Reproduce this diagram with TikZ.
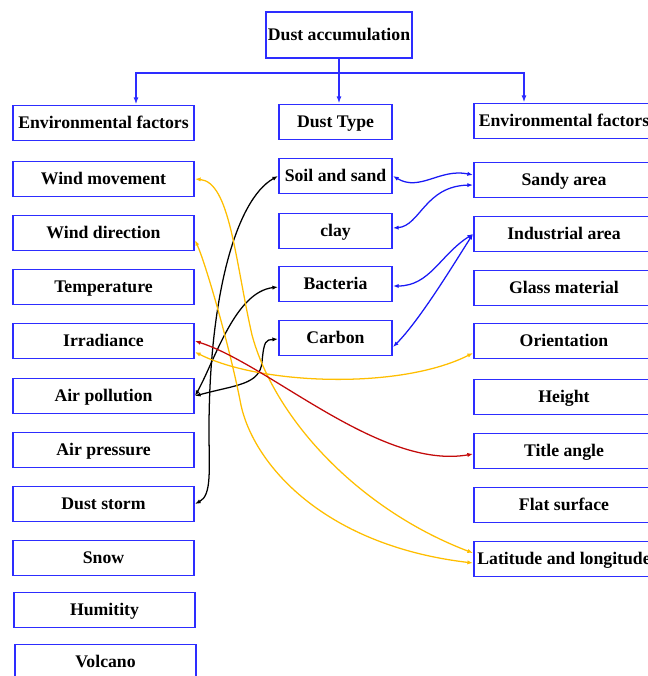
\documentclass[tikz,border=0pt]{standalone}
\usepackage{fontspec}
\setmainfont{Liberation Serif}
\usetikzlibrary{arrows.meta,calc}
\definecolor{boxblue}{RGB}{45,45,255}
\definecolor{linkblue}{RGB}{25,25,245}
\definecolor{linkyellow}{RGB}{255,190,0}
\definecolor{linkred}{RGB}{195,10,10}
\newcommand{\clrbox}{boxblue}
\newcommand{\clrlink}{linkblue}

\begin{document}
\begin{tikzpicture}[x=0.025cm, y=-0.025cm,
    box/.style={draw=\clrbox, line width=1.4pt, minimum height=0.875cm, inner sep=0pt,
        text height=1.95ex, text depth=0.25ex,
        font=\fontsize{12.6}{14}\selectfont\bfseries},
    leftbox/.style={box, minimum width=4.525cm},
    midbox/.style={box, minimum width=2.825cm},
    rightbox/.style={box, minimum width=4.5cm},
    tree/.style={draw=\clrbox, line width=1pt, -{Latex[length=5pt,width=3.5pt]}},
    link/.style={line width=0.9pt, {Latex[length=4pt,width=3pt]}-{Latex[length=4pt,width=3pt]}}]
    \useasboundingbox (0,0) rectangle (648,676);

    % top of the tree
    \node[box, minimum width=3.65cm, minimum height=1.15cm] (dustacc) at (339,35) {Dust accumulation};
    \node[leftbox] (envl) at (103.5,123) {Environmental factors};
    \node[midbox] (dtype) at (335.5,122) {Dust Type};
    \node[rightbox] (envr) at (564,121) {Environmental factors};

    % left column
    \node[leftbox] (wind) at (103.5,179) {Wind movement};
    \node[leftbox] (winddir) at (103.5,233) {Wind direction};
    \node[leftbox] (temp) at (103.5,287) {Temperature};
    \node[leftbox] (irrad) at (103.5,341) {Irradiance};
    \node[leftbox] (airpol) at (103.5,396) {Air pollution};
    \node[leftbox] (airpres) at (103.5,450) {Air pressure};
    \node[leftbox] (storm) at (103.5,504) {Dust storm};
    \node[leftbox] (snow) at (103.5,558) {Snow};
    \node[leftbox] (humid) at (104.5,610) {Humitity};
    \node[leftbox] (volcano) at (105.5,662) {Volcano};

    % middle column
    \node[midbox] (soil) at (335.5,176) {Soil and sand};
    \node[midbox] (clay) at (335.5,231) {clay};
    \node[midbox] (bact) at (335.5,284) {Bacteria};
    \node[midbox] (carbon) at (335.5,338) {Carbon};

    % right column
    \node[rightbox] (sandy) at (564,180) {Sandy area};
    \node[rightbox] (indus) at (564,234) {Industrial area};
    \node[rightbox] (glass) at (564,288) {Glass material};
    \node[rightbox] (orient) at (564,341) {Orientation};
    \node[rightbox] (height) at (564,397) {Height};
    \node[rightbox] (tilt) at (564,451) {Title angle};
    \node[rightbox] (flat) at (564,505) {Flat surface};
    \node[rightbox] (latlong) at (564,559) {Latitude and longitude};

    \draw[tree] (dustacc.south) -- (dustacc.south |- dtype.north);
    \draw[tree] ($(dustacc.south)+(0,14)$) -| ($(envl.north)+(32.5,0)$);
    \draw[tree] ($(dustacc.south)+(0,14)$) -| ($(envr.north)+(-40,0)$);

    % black links
    \draw[link, black] (storm.east) .. controls (212,495) and (209,470) .. (209,430)
        .. controls (209,300) and (235,200) .. (soil.west);
    \draw[link, black] (airpol.east) .. controls (215,360) and (235,292) .. ($(bact.west)+(0,3)$);
    \draw[link, black] (airpol.east) .. controls (235,385) and (260,385) .. (262,362)
        .. controls (264,340) and (266,340) .. ($(carbon.west)+(0,1)$);

    % yellow links
    \draw[link, linkyellow] (wind.east) .. controls (230,182) and (235,260) .. (252,335)
        .. controls (275,420) and (360,510) .. ($(latlong.west)+(0,-6)$);
    \draw[link, linkyellow] ($(winddir.east)+(0,7)$) .. controls (205,262) and (228,340) .. (240,400)
        .. controls (250,460) and (320,545) .. ($(latlong.west)+(0,4)$);
    \draw[link, linkyellow] ($(irrad.east)+(0,11)$) .. controls (260,385) and (400,390) .. ($(orient.west)+(0,12)$);

    % red link
    \draw[link, linkred] (irrad.east) .. controls (270,365) and (380,470) .. ($(tilt.west)+(0,3)$);

    % blue links
    \draw[link, \clrlink] (soil.east) .. controls (420,192) and (440,168) .. ($(sandy.west)+(0,-5)$);
    \draw[link, \clrlink] ($(clay.east)+(0,-3)$) .. controls (420,226) and (425,186) .. ($(sandy.west)+(0,5)$);
    \draw[link, \clrlink] ($(bact.east)+(0,2)$) .. controls (430,286) and (440,255) .. (indus.west);
    \draw[link, \clrlink] ($(carbon.east)+(0,9)$) .. controls (420,320) and (455,262) .. (indus.west);
\end{tikzpicture}
\end{document}
